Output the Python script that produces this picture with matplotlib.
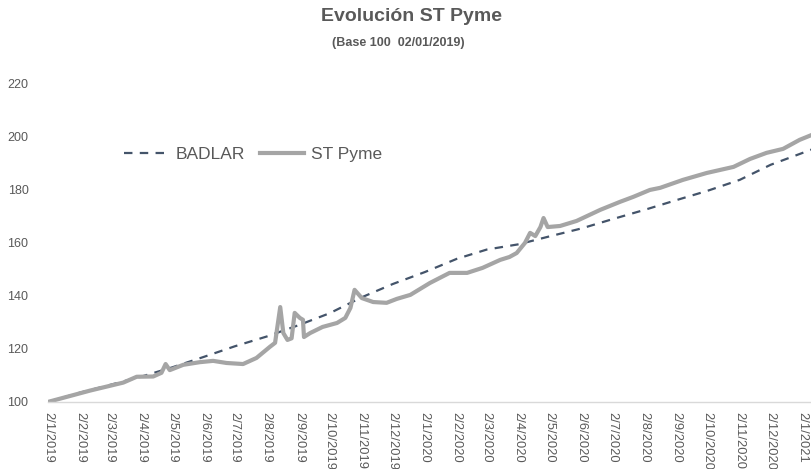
import matplotlib
matplotlib.use('Agg')
import matplotlib.pyplot as plt
import pandas as pd

plt.rcParams['font.family'] = ['Liberation Sans', 'DejaVu Sans']

# ST Pyme (base 100 = 02/01/2019)
pyme_dates = [
    '2019-01-02', '2019-02-12', '2019-03-16', '2019-03-29', '2019-04-14', '2019-04-22',
    '2019-04-26', '2019-04-30', '2019-05-13', '2019-05-29', '2019-06-11', '2019-06-24',
    '2019-07-10', '2019-07-23', '2019-08-05', '2019-08-10', '2019-08-15', '2019-08-18',
    '2019-08-22', '2019-08-26', '2019-08-29', '2019-09-03', '2019-09-06', '2019-09-07',
    '2019-09-13', '2019-09-25', '2019-10-09', '2019-10-17', '2019-10-22', '2019-10-26',
    '2019-11-02', '2019-11-13', '2019-11-26', '2019-12-06', '2019-12-19', '2020-01-07',
    '2020-01-26', '2020-02-12', '2020-02-27', '2020-03-15', '2020-03-24', '2020-03-31',
    '2020-04-08', '2020-04-13', '2020-04-18', '2020-04-23', '2020-04-26', '2020-04-30',
    '2020-05-12', '2020-05-28', '2020-06-20', '2020-07-09', '2020-07-22', '2020-08-07',
    '2020-08-17', '2020-09-08', '2020-10-01', '2020-10-27', '2020-11-12', '2020-11-28',
    '2020-12-14', '2020-12-30', '2021-01-11',
]
pyme_values = [
    100.0, 104.3, 107.3, 109.5, 109.6, 111.0,
    114.3, 112.0, 114.0, 115.0, 115.5, 114.7,
    114.3, 116.6, 120.8, 122.3, 135.8, 126.0,
    123.4, 124.0, 133.6, 131.7, 131.0, 124.5,
    126.0, 128.3, 129.8, 131.7, 135.5, 142.3,
    139.2, 137.7, 137.4, 138.9, 140.4, 144.9,
    148.7, 148.7, 150.6, 153.6, 154.7, 156.2,
    160.0, 163.8, 162.6, 166.0, 169.4, 166.0,
    166.4, 168.3, 172.5, 175.5, 177.4, 180.0,
    180.8, 183.8, 186.4, 188.7, 191.7, 194.0,
    195.5, 198.9, 200.8,
]

# BADLAR (base 100)
badlar_dates = [
    '2019-01-02', '2019-02-02', '2019-03-02', '2019-04-02', '2019-05-02', '2019-06-02',
    '2019-07-02', '2019-08-02', '2019-09-02', '2019-10-02', '2019-11-02', '2019-12-02',
    '2020-01-02', '2020-02-02', '2020-03-02', '2020-04-02', '2020-05-02', '2020-06-02',
    '2020-07-02', '2020-08-02', '2020-09-02', '2020-10-02', '2020-11-02', '2020-12-02',
    '2021-01-02', '2021-01-11',
]
badlar_values = [
    100.0, 103.5, 106.3, 109.5, 113.0, 117.0,
    121.0, 124.7, 129.0, 133.5, 139.5, 144.5,
    149.0, 154.0, 157.5, 159.5, 162.5, 165.5,
    169.0, 172.5, 176.2, 179.7, 183.8, 189.5,
    194.0, 195.3,
]

tick_dates = pd.date_range('2019-01-01', '2021-01-01', freq='MS') + pd.Timedelta(days=1)
tick_labels = [f'{d.day}/{d.month}/{d.year}' for d in tick_dates]

pyme_x = pd.to_datetime(pyme_dates)
badlar_x = pd.to_datetime(badlar_dates)

fig = plt.figure(figsize=(8.12, 4.69), dpi=100)
ax = fig.add_axes([0.059, 0.143, 0.941, 0.678])

ax.plot(badlar_x, badlar_values, color='#44546A', linewidth=1.6,
        linestyle=(0, (3.8, 3.3)), label='BADLAR')
ax.plot(pyme_x, pyme_values, color='#A5A5A5', linewidth=3.0,
        solid_joinstyle='round', label='ST Pyme')

ax.set_ylim(100, 220)
ax.set_yticks([100, 120, 140, 160, 180, 200, 220])
ax.set_xlim(pd.Timestamp('2019-01-02'), pd.Timestamp('2021-01-11'))
ax.set_xticks(tick_dates)
ax.set_xticklabels(tick_labels, rotation=270, ha='center', va='top')

for s in ['top', 'right', 'left']:
    ax.spines[s].set_visible(False)
ax.spines['bottom'].set_color('#D9D9D9')
ax.spines['bottom'].set_linewidth(1.0)
ax.tick_params(axis='both', length=0, colors='#595959')
ax.tick_params(axis='y', labelsize=9, pad=14)
ax.tick_params(axis='x', labelsize=9.3, pad=7)

fig.text(0.507, 0.964, 'Evolución ST Pyme', ha='center', va='center',
         fontsize=14, fontweight='bold', color='#595959')
fig.text(0.490, 0.908, '(Base 100  02/01/2019)', ha='center', va='center',
         fontsize=9, fontweight='bold', color='#595959')

fig.legend(loc='center', bbox_to_anchor=(0.312, 0.67), ncol=2, frameon=False,
           fontsize=12.5, handlelength=2.5, handletextpad=0.45, columnspacing=0.9,
           labelcolor='#595959')

fig.savefig('out.png', dpi=100)
